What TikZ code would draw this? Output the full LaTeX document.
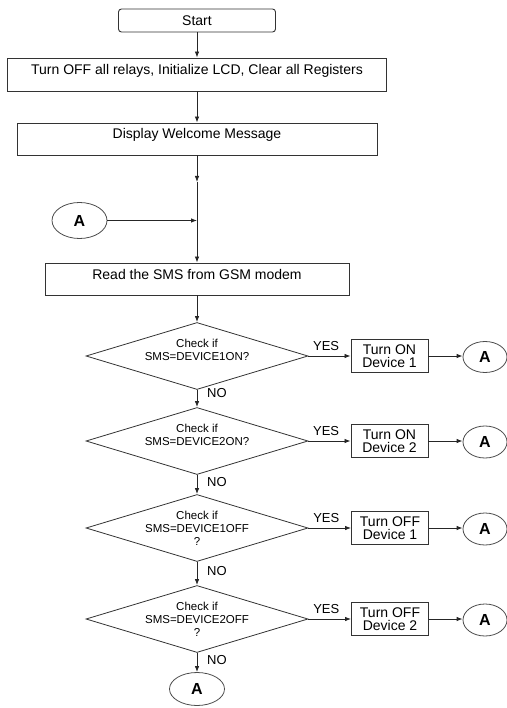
\documentclass[tikz,border=0pt]{standalone}
\usepackage{fontspec}
\setmainfont{Liberation Sans}
\usetikzlibrary{shapes.geometric,arrows.meta,calc}
\begin{document}
\begin{tikzpicture}[x=1pt,y=-1pt,
  arr/.style={draw=black!85, line width=0.8pt, -{Latex[length=6pt,width=4.5pt]}},
  startbox/.style={draw=black!80, line width=0.9pt, rectangle, rounded corners=3pt,
    minimum width=157pt, minimum height=23pt, inner sep=0pt, font=\fontsize{14}{16}\selectfont},
  box/.style={draw=black!80, line width=0.9pt, rectangle, inner sep=2pt,
    font=\fontsize{14}{16}\selectfont, text height=5pt, text depth=5pt},
  dia/.style={diamond, draw=black!80, line width=0.8pt, aspect=3.3, inner sep=0pt,
    minimum width=222pt, minimum height=67pt},
  diatext/.style={align=center, inner sep=0pt, font=\fontsize{11.5}{13}\selectfont},
  dev/.style={draw=black!80, line width=0.9pt, rectangle, align=center, inner sep=1pt,
    minimum width=77pt, minimum height=33pt, font=\fontsize{14}{13.5}\selectfont},
  conn/.style={ellipse, draw=black!70, line width=0.8pt, inner sep=0pt,
    font=\fontsize{16}{18}\selectfont\bfseries},
  yeslab/.style={above=5pt, pos=0.42, inner sep=0pt, font=\fontsize{13}{15}\selectfont},
  nolab/.style={anchor=west, inner sep=0pt, font=\fontsize{13}{15}\selectfont}
]
\useasboundingbox (0,0) rectangle (506,708);

% main column
\node[startbox] (start) at (197,20.5) {Start};
\node[box, minimum width=379pt, minimum height=33pt] (init) at (197,74.5)
  {Turn OFF all relays, Initialize LCD, Clear all Registers};
\node[box, minimum width=360pt, minimum height=32pt] (welcome) at (197,139)
  {Display Welcome Message};
\coordinate (j1) at (197,182);
\node[conn, minimum width=55pt, minimum height=36pt] (a0) at (79.5,220.5) {A};
\coordinate (j2) at (197,220.5);
\node[box, minimum width=304pt, minimum height=32pt] (read) at (197,279)
  {Read the SMS from GSM modem};

% decisions
\node[dia] (d1) at (197,356) {};
\node[diatext] (t1) at ([yshift=6.5pt]d1.center) {Check if\\SMS=DEVICE1ON?};
\node[dia] (d2) at (197,441) {};
\node[diatext] (t2) at ([yshift=6.5pt]d2.center) {Check if\\SMS=DEVICE2ON?};
\node[dia] (d3) at (197,528) {};
\node[diatext] (t3) at (d3.center) {Check if\\SMS=DEVICE1OFF\\?};
\node[dia] (d4) at (197,619) {};
\node[diatext] (t4) at (d4.center) {Check if\\SMS=DEVICE2OFF\\?};
\node[conn, minimum width=55pt, minimum height=33pt] (a5) at (197,689) {A};

% device boxes
\node[dev] (b1) at (389.5,356) {Turn ON\\Device 1};
\node[dev] (b2) at (389.5,441) {Turn ON\\Device 2};
\node[dev] (b3) at (390,528) {Turn OFF\\Device 1};
\node[dev] (b4) at (390,619) {Turn OFF\\Device 2};

% right connectors
\node[conn, minimum width=44pt, minimum height=31pt] (a1) at (485,357) {A};
\node[conn, minimum width=44pt, minimum height=32pt] (a2) at (485,442) {A};
\node[conn, minimum width=44pt, minimum height=32pt] (a3) at (485,529) {A};
\node[conn, minimum width=44pt, minimum height=32pt] (a4) at (485,620) {A};

% NO labels
\node[nolab] (no1) at (207,393) {NO};
\node[nolab] (no2) at (207,482.5) {NO};
\node[nolab] (no3) at (207,571) {NO};
\node[nolab] (no4) at (207,660) {NO};

% vertical connectors
\draw[arr] (start) -- (init);
\draw[arr] (init) -- (welcome);
\draw[arr] (welcome) -- (j1);
\draw[arr] (j1) -- (read);
\draw[arr] (a0) -- (j2);
\draw[arr] (read) -- (d1);
\draw[arr] (d1) -- (d2);
\draw[arr] (d2) -- (d3);
\draw[arr] (d3) -- (d4);
\draw[arr] (d4) -- (a5);

% YES branches
\draw[arr] (d1.east) -- node[yeslab] (y1) {YES} (d1.east -| b1.west);
\draw[arr] (d2.east) -- node[yeslab] (y2) {YES} (d2.east -| b2.west);
\draw[arr] (d3.east) -- node[yeslab] (y3) {YES} (d3.east -| b3.west);
\draw[arr] (d4.east) -- node[yeslab] (y4) {YES} (d4.east -| b4.west);
\draw[arr] (b1.east) -- (b1.east -| a1.west);
\draw[arr] (b2.east) -- (b2.east -| a2.west);
\draw[arr] (b3.east) -- (b3.east -| a3.west);
\draw[arr] (b4.east) -- (b4.east -| a4.west);
\end{tikzpicture}
\end{document}
